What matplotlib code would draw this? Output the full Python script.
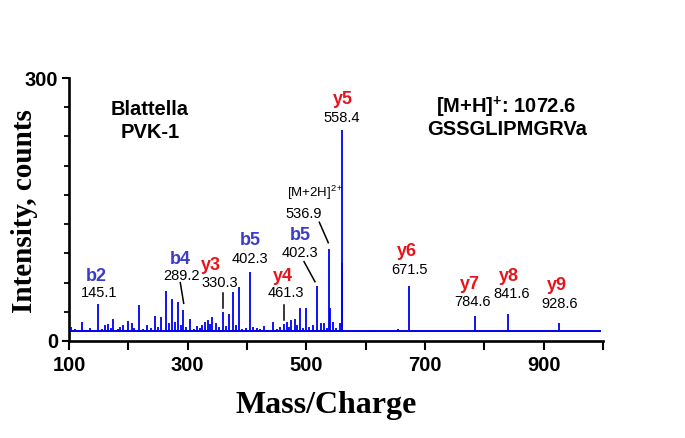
import matplotlib
matplotlib.use("Agg")
import matplotlib.pyplot as plt
from matplotlib.ticker import FixedLocator

plt.rcParams["mathtext.fontset"] = "custom"
plt.rcParams["mathtext.rm"] = "Liberation Sans"
plt.rcParams["mathtext.bf"] = "Liberation Sans:bold"
plt.rcParams["mathtext.it"] = "Liberation Sans:italic"

# ---------------- data ----------------
baseline = 11.4
mz_start, mz_end = 100, 996

peak_mz = [103, 110, 122.5, 128, 135.4, 142, 149.4, 155, 160.7, 166.3, 170, 174.7,
           182, 186, 191.5, 196, 200, 205.6, 210, 218, 225, 232, 238, 245, 250,
           255.6, 263, 268, 274, 278, 283.7, 288, 292.6, 298, 304, 310, 315.2,
           320, 324, 329.2, 334.8, 338, 341.5, 347.2, 352, 360, 365, 370.2, 377,
           382, 387, 392, 398, 405, 410, 416.3, 422, 428.7, 435, 444.4, 450,
           455.6, 462.9, 466.9, 470, 473.7, 480.9, 485, 489.3, 494, 498.9, 505,
           512, 517.5, 524.2, 529.8, 534, 538.7, 539.6, 545.5, 550, 556, 559.5,
           560.5, 612.9, 655, 673, 784.3, 840, 926.4, 950]
peak_int = [16.3, 14, 21.7, 13, 14.4, 13, 41.9, 14, 18.3, 19, 15, 24.7,
            14, 16, 18.3, 13, 23.2, 20.9, 15, 41, 14, 18.6, 15, 28.5, 16,
            27.7, 57.4, 20, 47.9, 22, 44.8, 18, 35.4, 16, 25, 14, 17,
            15, 18, 22, 24, 19, 27.7, 21, 16, 32.7, 17, 30.8, 56.3,
            18, 62, 14, 15, 79, 16, 14.5, 14, 17.5, 13, 22, 14,
            16.3, 19, 21.5, 16, 24, 25, 18, 37.3, 15, 37.3, 16,
            18, 63, 20, 21, 15, 105, 38, 21.5, 15, 20, 241,
            89, 12.5, 13.7, 62.7, 28.9, 30.4, 20.9, 11.8]

ion_names = ["b2", "b4", "y3", "b5", "y4", "b5", "y5", "y6", "y7", "y8", "y9"]
ion_kinds = ["b", "b", "y", "b", "y", "b", "y", "y", "y", "y", "y"]
ion_values = ["145.1", "289.2", "330.3", "402.3", "461.3", "402.3", "558.4",
              "671.5", "784.6", "841.6", "928.6"]

x_tick_values = [100, 200, 300, 400, 500, 600, 700, 800, 900, 1000]
x_tick_labels = ["100", "", "300", "", "500", "", "700", "", "900", ""]

# ---------------- styling ----------------
SPEC = "#0000f0"
BLUE = "#3c3cc8"
RED = "#e8141c"
SANS = "Liberation Sans"
SERIF = "Liberation Serif"

fig = plt.figure(figsize=(6.85, 4.38), dpi=100)
ax = fig.add_axes([69 / 685, 1 - 341 / 438, 534 / 685, 263 / 438])

# spectrum: baseline plus stick peaks
ax.hlines(baseline, mz_start, mz_end, color=SPEC, lw=1.4, zorder=2)
ax.vlines(peak_mz, baseline, peak_int, color=SPEC, lw=1.3, zorder=3)

ax.set_xlim(100, 1000)
ax.set_ylim(0, 300)

for s in ["top", "right"]:
    ax.spines[s].set_visible(False)
for s in ["left", "bottom"]:
    ax.spines[s].set_linewidth(1.9)
    ax.spines[s].set_color("black")

ax.xaxis.set_major_locator(FixedLocator(x_tick_values))
ax.set_xticklabels(x_tick_labels)
ax.yaxis.set_major_locator(FixedLocator([0, 300]))
ax.yaxis.set_minor_locator(FixedLocator([300 * i / 9 for i in range(1, 9)]))
ax.set_yticklabels(["0", "300"])

ax.tick_params(axis="x", which="major", direction="out", length=6.5, width=1.5,
               pad=4, labelsize=14.5)
ax.tick_params(axis="y", which="major", direction="out", length=5, width=1.5,
               pad=3, labelsize=14.5)
ax.tick_params(axis="y", which="minor", direction="out", length=3.5, width=1.3)
for lab in ax.get_xticklabels() + ax.get_yticklabels():
    lab.set_fontfamily(SANS)
    lab.set_fontweight("bold")

ax.set_xlabel("Mass/Charge", fontfamily=SERIF, fontweight="bold", fontsize=23,
              va="center")
ax.xaxis.set_label_coords((326 - 69) / 534, (341 - 406) / 263)
ax.set_ylabel("Intensity, counts", fontfamily=SERIF, fontweight="bold",
              fontsize=21, va="center")
ax.yaxis.set_label_coords((25 - 69) / 534, (341 - 211) / 263)

# text annotations
ax.text(236.5, 264.6, "Blattella", fontfamily=SANS, fontweight="bold",
        fontsize=14.5, ha="center", va="center")
ax.text(236.5, 237.3, "PVK-1", fontfamily=SANS, fontweight="bold",
        fontsize=14.5, ha="center", va="center")
ax.text(836.5, 266.9, r"[M+H]$^{\mathbf{+}}$: 1072.6", fontfamily=SANS,
        fontweight="bold", fontsize=14.5, ha="center", va="center")
ax.text(838.2, 240.7, "GSSGLIPMGRVa", fontfamily=SANS, fontweight="bold",
        fontsize=14.5, ha="center", va="center")

name_pos = [(146.7, 74.1), (287, 93.5), (340, 86), (405, 115.2), (460.7, 73.3),
            (489.3, 120.1), (561.8, 275.7), (670.2, 101.9), (775.8, 64.7),
            (842.1, 73.3), (923, 63.5)]
val_pos = [(150.6, 54.4), (290, 74.5), (354.5, 66.5), (405, 93.5), (465.2, 55.1),
           (489.3, 100.4), (560.1, 254.4), (673.5, 81), (780.4, 44.8),
           (846.1, 53.3), (926.4, 42.2)]

for name, kind, val, (nx, ny), (vx, vy) in zip(ion_names, ion_kinds, ion_values,
                                               name_pos, val_pos):
    ax.text(nx, ny, name, color=BLUE if kind == "b" else RED, fontfamily=SANS,
            fontweight="bold", fontsize=13, ha="center", va="center")
    ax.text(vx, vy, val, color="black", fontfamily=SANS, fontsize=10.5,
            ha="center", va="center")

ax.text(514.6, 168.8, r"[M+2H]$^{2+}$", fontfamily=SANS, fontsize=9.5,
        ha="center", va="center")
ax.text(496, 144.9, "536.9", fontfamily=SANS, fontsize=10.5, ha="center",
        va="center")

leaders = [((287.6, 66.5), (293.3, 43)),
           ((359, 54.4), (359, 37.3)),
           ((462.4, 40.8), (462.4, 24.4)),
           ((496.1, 90.5), (514.6, 67.6)),
           ((521.9, 135.4), (537, 112.1))]
for (x0, y0), (x1, y1) in leaders:
    ax.plot([x0, x1], [y0, y1], color="black", lw=1.1, zorder=4)

fig.savefig("out.png", dpi=100)
